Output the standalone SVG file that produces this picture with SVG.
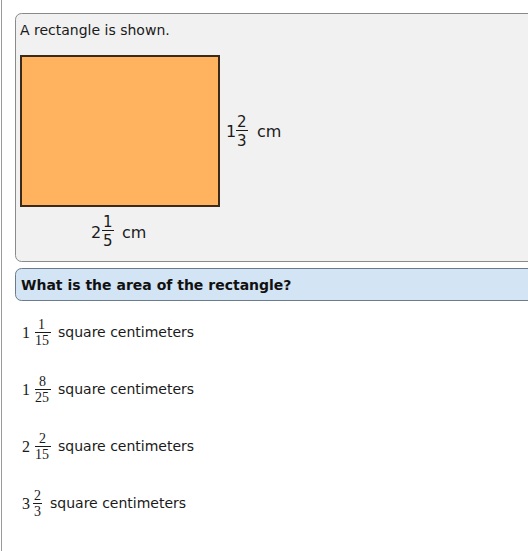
<svg xmlns="http://www.w3.org/2000/svg" width="528" height="551" viewBox="0 0 528 551">
<style>
.t{font-family:"DejaVu Sans",Verdana,sans-serif;font-size:14px;fill:#1a1a1a}
.l{font-family:"DejaVu Sans",Verdana,sans-serif;font-size:16px;fill:#1a1a1a}
.f{font-family:"DejaVu Sans",Verdana,sans-serif;font-size:15px;fill:#1a1a1a}
.b{font-family:"DejaVu Sans",Verdana,sans-serif;font-size:14px;font-weight:bold;fill:#111}
.s{font-family:"Liberation Serif","Times New Roman",serif;fill:#1a1a1a}
.bar{stroke:#1a1a1a;stroke-width:1}
</style>
<rect x="0" y="0" width="528" height="551" fill="#ffffff"/>
<line x1="1.5" y1="0" x2="1.5" y2="551" stroke="#9a9a9a" stroke-width="1"/>
<g id="panel1">
<rect x="15.5" y="13.5" width="530" height="248" rx="6" fill="#f1f1f1" stroke="#8a8a8a" stroke-width="1"/>
<text class="t" x="20" y="35">A rectangle is shown.</text>
</g>
<g id="rectangle">
<rect x="21" y="56" width="198" height="150" fill="#ffb35e" stroke="#3b2a17" stroke-width="2"/>
</g>
<g id="height-label">
<text class="l" x="226" y="137">1</text>
<text class="f" x="237" y="127">2</text>
<line class="bar" x1="236" y1="130.5" x2="248" y2="130.5"/>
<text class="f" x="237" y="146">3</text>
<text class="l" x="257" y="137">cm</text>
</g>
<g id="width-label">
<text class="l" x="91" y="238">2</text>
<text class="f" x="103" y="227">1</text>
<line class="bar" x1="102" y1="230.5" x2="114" y2="230.5"/>
<text class="f" x="103" y="246">5</text>
<text class="l" x="122" y="238">cm</text>
</g>
<g id="question">
<rect x="15.5" y="268.5" width="530" height="32" rx="6" fill="#d3e4f4" stroke="#6b7b8b" stroke-width="1"/>
<text class="b" x="21" y="290">What is the area of the rectangle?</text>
</g>
<g id="option1">
<text class="s" x="22" y="338" font-size="16">1</text>
<text class="s" x="38" y="329" font-size="14">1</text>
<line class="bar" x1="35" y1="332.5" x2="51" y2="332.5"/>
<text class="s" x="35" y="345" font-size="14">15</text>
<text class="t" x="58" y="337">square centimeters</text>
</g>
<g id="option2">
<text class="s" x="22" y="395" font-size="16">1</text>
<text class="s" x="39" y="386" font-size="14">8</text>
<line class="bar" x1="35" y1="389.5" x2="51" y2="389.5"/>
<text class="s" x="35" y="402" font-size="14">25</text>
<text class="t" x="58" y="394">square centimeters</text>
</g>
<g id="option3">
<text class="s" x="22" y="452" font-size="16">2</text>
<text class="s" x="39" y="443" font-size="14">2</text>
<line class="bar" x1="35" y1="446.5" x2="51" y2="446.5"/>
<text class="s" x="35" y="459" font-size="14">15</text>
<text class="t" x="58" y="451">square centimeters</text>
</g>
<g id="option4">
<text class="s" x="22" y="509" font-size="16">3</text>
<text class="s" x="34" y="500" font-size="14">2</text>
<line class="bar" x1="33" y1="503.5" x2="42" y2="503.5"/>
<text class="s" x="34" y="516" font-size="14">3</text>
<text class="t" x="50" y="508">square centimeters</text>
</g>
</svg>
